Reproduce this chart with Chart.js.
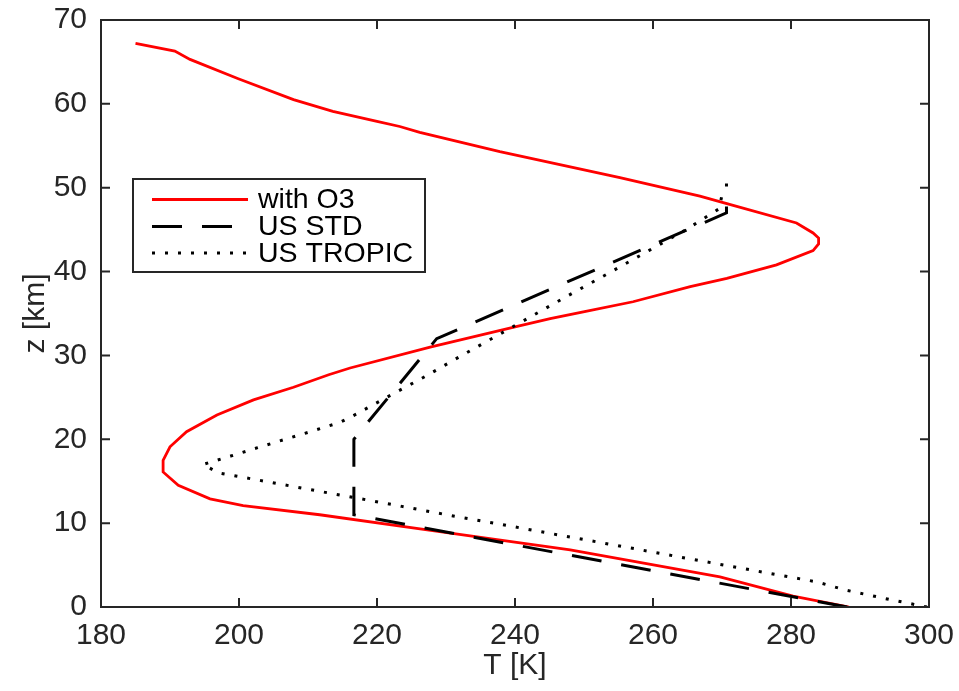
<!DOCTYPE html>
<html lang="en">
<head>
<meta charset="UTF-8">
<title>Temperature profiles</title>
<script src="https://cdn.jsdelivr.net/npm/chart.js"></script>
<style>
  body { margin: 0; background: #fff; }
</style>
</head>
<body>
<canvas id="profile" width="959" height="691"></canvas>
<script>
// with O3 profile
const zO3 = [0, 1.3, 3.6, 6.8, 9.3, 11.0, 12.1, 12.9, 14.5, 16.1, 17.5, 19.1, 20.9, 22.9, 24.7, 26.2, 27.7, 28.5, 31.0, 33.4, 34.4, 35.2, 36.4, 38.2, 39.2, 40.8, 42.5, 43.3, 44.0, 44.6, 45.8, 48.1, 49.0, 51.2, 54.3, 56.6, 57.3, 57.9, 59.1, 60.5, 63.0, 65.3, 66.3, 67.2];
const tO3 = [288.4, 280.3, 269.7, 248.0, 226.5, 211.7, 200.6, 195.8, 191.2, 189.0, 189.0, 190.0, 192.4, 196.8, 202.1, 207.9, 213.0, 216.1, 227.7, 240.0, 245.1, 249.9, 257.1, 265.4, 270.7, 277.9, 283.2, 284.0, 284.0, 283.2, 280.8, 270.7, 266.8, 255.2, 237.8, 226.2, 223.3, 220.0, 213.6, 207.9, 199.9, 192.9, 190.7, 185.0];

// US standard
const zStd = [0, 11, 20, 32, 47, 50.5];
const tStd = [288.15, 216.65, 216.65, 228.65, 270.65, 270.65];

// US tropic
const zTrop = [0, 1, 2, 3, 4, 5, 6, 7, 8, 9, 10, 11, 12, 13, 14, 15, 16, 17, 18, 19, 20, 21, 22, 23, 24, 25, 27.5, 30, 32.5, 35, 37.5, 40, 42.5, 45, 47.5, 50];
const tTrop = [299.7, 293.7, 288.0, 283.7, 277.0, 270.3, 263.6, 257.0, 250.3, 243.6, 237.0, 230.1, 223.6, 217.0, 210.3, 203.7, 197.0, 194.8, 198.8, 202.7, 206.7, 210.7, 214.6, 217.0, 219.2, 221.4, 227.0, 232.3, 237.7, 243.1, 248.5, 254.0, 259.4, 264.8, 269.6, 270.2];

const xTicks = [180, 200, 220, 240, 260, 280, 300];
const yTicks = [0, 10, 20, 30, 40, 50, 60, 70];

const axisColor = '#262626';
const fontFamily = '"Liberation Sans", Arial, Helvetica, sans-serif';

function toPoints(ts, zs) {
    return ts.map((t, i) => ({ x: t, y: zs[i] }));
}

// MATLAB style box with inward ticks
const frameAndTicks = {
    id: 'frameAndTicks',
    afterDatasetsDraw(chart) {
        const { ctx, chartArea: a, scales } = chart;
        const len = 9;
        ctx.save();
        ctx.strokeStyle = axisColor;
        ctx.lineWidth = 2;
        ctx.strokeRect(a.left, a.top, a.right - a.left, a.bottom - a.top);
        ctx.beginPath();
        xTicks.forEach(v => {
            const px = scales.x.getPixelForValue(v);
            ctx.moveTo(px, a.bottom); ctx.lineTo(px, a.bottom - len);
            ctx.moveTo(px, a.top); ctx.lineTo(px, a.top + len);
        });
        yTicks.forEach(v => {
            const py = scales.y.getPixelForValue(v);
            ctx.moveTo(a.left, py); ctx.lineTo(a.left + len, py);
            ctx.moveTo(a.right, py); ctx.lineTo(a.right - len, py);
        });
        ctx.stroke();
        ctx.restore();
    }
};

// legend box inside the axes
const boxLegend = {
    id: 'boxLegend',
    afterDraw(chart) {
        const { ctx } = chart;
        const bx = 133, by = 179, bw = 292, bh = 93;
        const rowY = [199.5, 226.5, 253];
        ctx.save();
        ctx.fillStyle = '#fff';
        ctx.fillRect(bx, by, bw, bh);
        ctx.strokeStyle = axisColor;
        ctx.lineWidth = 2;
        ctx.strokeRect(bx, by, bw, bh);
        ctx.font = '28.5px ' + fontFamily;
        ctx.textBaseline = 'middle';
        chart.data.datasets.forEach((ds, i) => {
            const y = rowY[i];
            ctx.beginPath();
            ctx.setLineDash(ds.borderDash || []);
            ctx.strokeStyle = ds.borderColor;
            ctx.lineWidth = ds.borderWidth;
            ctx.moveTo(152, y);
            ctx.lineTo(248, y);
            ctx.stroke();
            ctx.setLineDash([]);
            ctx.fillStyle = '#000';
            ctx.fillText(ds.label, 258, y + 1);
        });
        ctx.restore();
    }
};

new Chart(document.getElementById('profile'), {
    type: 'scatter',
    data: {
        datasets: [
            {
                label: 'with O3',
                data: toPoints(tO3, zO3),
                showLine: true,
                borderColor: '#ff0000',
                borderWidth: 2.8,
                pointRadius: 0,
                order: 3
            },
            {
                label: 'US STD',
                data: toPoints(tStd, zStd),
                showLine: true,
                borderColor: '#000000',
                borderWidth: 3,
                borderDash: [30, 20],
                pointRadius: 0,
                order: 2
            },
            {
                label: 'US TROPIC',
                data: toPoints(tTrop, zTrop),
                showLine: true,
                borderColor: '#000000',
                borderWidth: 3,
                borderDash: [3, 10],
                pointRadius: 0,
                order: 1
            }
        ]
    },
    options: {
        responsive: false,
        animation: false,
        devicePixelRatio: 1,
        layout: { padding: { top: 20, right: 30, left: 0, bottom: 0 } },
        plugins: {
            legend: { display: false },
            tooltip: { enabled: false }
        },
        scales: {
            x: {
                type: 'linear',
                min: 180,
                max: 300,
                afterFit: s => {
                    s.height = 84;
                    s.paddingLeft = 0;
                    s.paddingRight = 0;
                },
                afterBuildTicks: s => { s.ticks = xTicks.map(v => ({ value: v })); },
                grid: { display: false, drawTicks: false },
                border: { display: false },
                ticks: {
                    autoSkip: false,
                    maxRotation: 0,
                    padding: 11,
                    color: axisColor,
                    font: { family: fontFamily, size: 30 }
                },
                title: {
                    display: true,
                    text: 'T [K]',
                    color: axisColor,
                    font: { family: fontFamily, size: 30 },
                    padding: { top: 0, bottom: 7 }
                }
            },
            y: {
                type: 'linear',
                min: 0,
                max: 70,
                afterFit: s => {
                    s.width = 101;
                    s.paddingTop = 0;
                    s.paddingBottom = 0;
                },
                afterBuildTicks: s => { s.ticks = yTicks.map(v => ({ value: v })); },
                grid: { display: false, drawTicks: false },
                border: { display: false },
                ticks: {
                    autoSkip: false,
                    padding: 14,
                    color: axisColor,
                    font: { family: fontFamily, size: 30 }
                },
                title: {
                    display: true,
                    text: 'z [km]',
                    color: axisColor,
                    font: { family: fontFamily, size: 30 },
                    padding: { top: 18, bottom: 0 }
                }
            }
        }
    },
    plugins: [frameAndTicks, boxLegend]
});
</script>
</body>
</html>
